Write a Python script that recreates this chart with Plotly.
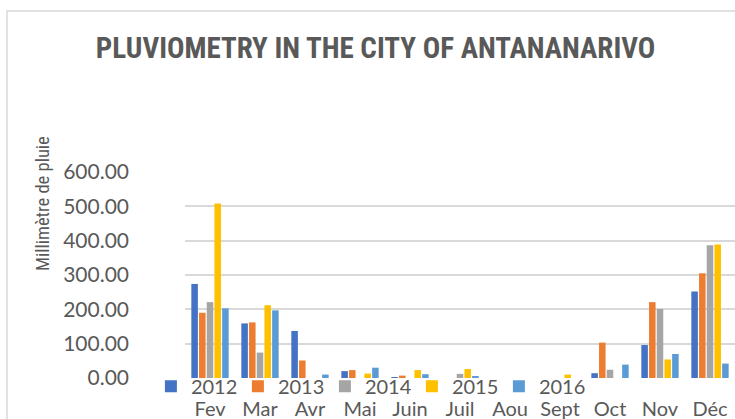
import plotly.graph_objects as go

months = ["Fev", "Mar", "Avr", "Mai", "Juin", "Juil", "Aou", "Sept", "Oct", "Nov", "Déc"]
years = ["2012", "2013", "2014", "2015", "2016"]
rain_2012 = [274, 159, 137, 20, 1, 0, 0, 0, 14, 96, 252]
rain_2013 = [190, 162, 51, 23, 7, 0, 0, 0, 103, 221, 305]
rain_2014 = [221, 74, 0, 0, 0, 12, 0, 0, 24, 201, 387]
rain_2015 = [508, 212, 0, 13, 23, 26, 0, 10, 0, 54, 389]
rain_2016 = [203, 197, 10, 30, 11, 4, 0, 0, 39, 70, 42]
y_ticks = [0, 100, 200, 300, 400, 500, 600]

series = [rain_2012, rain_2013, rain_2014, rain_2015, rain_2016]
colors = ["#4472C4", "#ED7D31", "#A5A5A5", "#FFC000", "#5B9BD5"]

fig = go.Figure()
for name, vals, col in zip(years, series, colors):
    fig.add_trace(go.Bar(x=months, y=vals, name=name, marker_color=col,
                         marker_line_width=0))

W, H = 735, 419
L, R, T, B = 185, 0, 172, 41
pw, ph = W - L - R, H - T - B
narrow = "Liberation Sans Narrow, Roboto Condensed, Liberation Sans, sans-serif"

fig.update_layout(
    width=W, height=H,
    margin=dict(l=L, r=R, t=T, b=B, pad=0, autoexpand=False),
    paper_bgcolor="white", plot_bgcolor="white",
    font=dict(family="Lato, Carlito, Calibri, sans-serif", color="#595959", size=20),
    barmode="group", bargap=0.23, bargroupgap=0.15,
    title=dict(text="<b>PLUVIOMETRY IN THE CITY OF ANTANANARIVO</b>",
               x=0.511, xanchor="center", y=1 - 48 / H, yanchor="middle",
               font=dict(family=narrow, size=29, color="#595959")),
    xaxis=dict(showgrid=False, showline=False, ticks="", tickfont=dict(size=20),
               ticklabelstandoff=17, fixedrange=True),
    yaxis=dict(range=[0, 600], tickvals=y_ticks, tickformat=".2f",
               gridcolor="#D9D9D9", gridwidth=2, zeroline=False,
               showline=False, ticks="", ticklabelstandoff=55,
               tickfont=dict(size=21)),
    showlegend=True,
    legend=dict(orientation="h", x=-0.062, xanchor="left", y=-0.04, yanchor="middle",
                font=dict(size=20), bgcolor="rgba(0,0,0,0)",
                entrywidth=42, entrywidthmode="pixels", itemwidth=30,
                traceorder="normal"),
    annotations=[dict(text="Millimètre de pluie", textangle=-90,
                      xref="paper", yref="paper",
                      x=(43 - L) / pw, y=(H - B - 204) / ph,
                      xanchor="center", yanchor="middle", showarrow=False,
                      font=dict(family=narrow, size=18.5, color="#595959"))],
    shapes=[dict(type="rect", xref="paper", yref="paper",
                 x0=(7 - L) / pw, x1=(W + 20 - L) / pw,
                 y0=-0.5, y1=(H - B - 11) / ph,
                 line=dict(color="#D9D9D9", width=1.5), layer="below")],
)

fig.write_html("out.html", config={"displayModeBar": False},
               post_script="document.body.style.margin='0';")
